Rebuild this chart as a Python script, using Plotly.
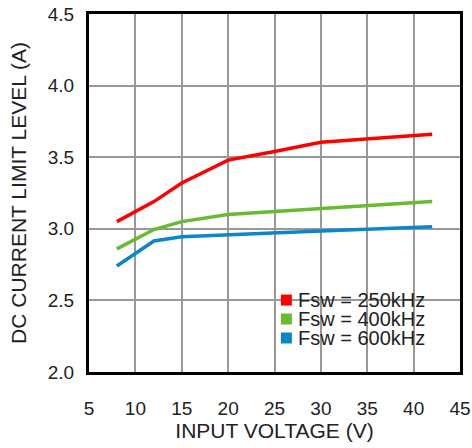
import plotly.graph_objects as go

vin = [8, 12, 15, 20, 25, 30, 42]
i_250 = [3.05, 3.19, 3.32, 3.48, 3.54, 3.605, 3.66]
i_400 = [2.86, 2.995, 3.05, 3.10, 3.12, 3.14, 3.19]
i_600 = [2.74, 2.915, 2.945, 2.96, 2.975, 2.985, 3.015]

names = ["Fsw = 250kHz", "Fsw = 400kHz", "Fsw = 600kHz"]
colors = ["#ff0000", "#66bb2e", "#0a88c6"]
series = [i_250, i_400, i_600]

x_ticks = [5, 10, 15, 20, 25, 30, 35, 40, 45]
y_ticks = [2.0, 2.5, 3.0, 3.5, 4.0, 4.5]

fam = "Liberation Sans, Arial, sans-serif"
txt = "#222222"

fig = go.Figure()
for name, col, ys in zip(names, colors, series):
    fig.add_trace(go.Scatter(x=vin, y=ys, mode="lines", name=name,
                             line=dict(color=col, width=3.5), showlegend=False))

# legend drawn as a white box with coloured squares and text labels
fig.add_shape(type="rect", xref="paper", yref="paper", x0=0.507, x1=0.954, y0=0.07, y1=0.235,
              fillcolor="white", line_width=0, layer="between")
row_y = [0.201, 0.148, 0.095]
for name, col, yy in zip(names, colors, row_y):
    fig.add_shape(type="rect", xref="paper", yref="paper", xsizemode="pixel", ysizemode="pixel",
                  xanchor=0.532, yanchor=yy, x0=-5.5, x1=5.5, y0=-5.5, y1=5.5,
                  fillcolor=col, line_width=0, layer="above")
    fig.add_annotation(xref="paper", yref="paper", x=0.557, y=yy, text=name, showarrow=False,
                       xanchor="left", yanchor="middle",
                       font=dict(family=fam, size=20, color=txt))

fig.update_layout(
    width=472, height=448,
    margin=dict(l=89, r=12, t=14, b=76),
    paper_bgcolor="white", plot_bgcolor="white",
    font=dict(family=fam, size=18, color=txt),
    showlegend=False,
)
fig.update_xaxes(range=[5, 45], tickvals=x_ticks, ticktext=[str(v) for v in x_ticks],
                 tickfont=dict(family=fam, size=19, color=txt),
                 showgrid=True, gridcolor="#999999", gridwidth=1.5,
                 showline=True, linecolor="black", linewidth=3, mirror=True,
                 ticks="outside", ticklen=17, tickcolor="rgba(0,0,0,0)",
                 zeroline=False, automargin=False,
                 title_text="INPUT VOLTAGE (V)", title_standoff=2,
                 title_font=dict(family=fam, size=21, color=txt))
fig.update_yaxes(range=[2.0, 4.5], tickvals=y_ticks, ticktext=[f"{v:.1f}" for v in y_ticks],
                 tickfont=dict(family=fam, size=19, color=txt),
                 showgrid=True, gridcolor="#999999", gridwidth=1.5,
                 showline=True, linecolor="black", linewidth=3, mirror=True,
                 ticks="outside", ticklen=8, tickcolor="rgba(0,0,0,0)",
                 zeroline=False, automargin=False,
                 title_text="DC CURRENT LIMIT LEVEL (A)", title_standoff=16,
                 title_font=dict(family=fam, size=21, color=txt))

fig.write_html("out.html", config={"displayModeBar": False},
               post_script="document.body.style.margin='0px';")
